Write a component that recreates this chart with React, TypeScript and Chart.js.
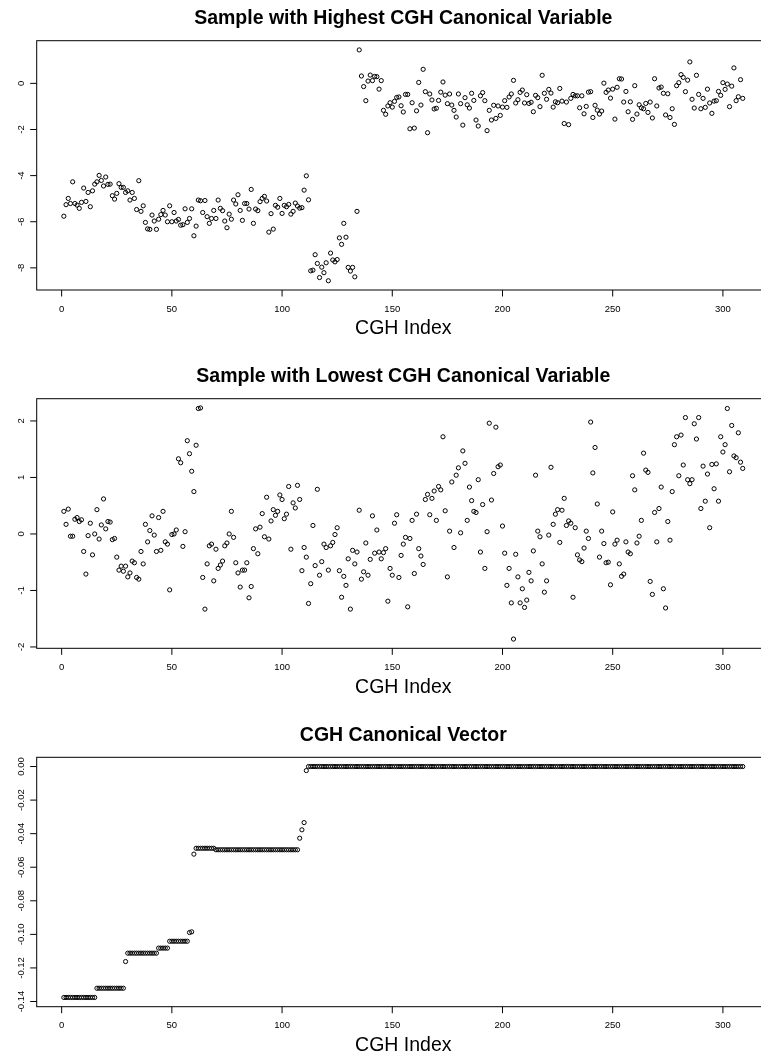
import React, { useEffect, useRef } from "react";
import { Chart, registerables } from "chart.js";

Chart.register(...registerables);

const FONT = '"Liberation Sans", Arial, Helvetica, sans-serif';
const CANVAS_W = 780;
const PAGE_W = 761;
const PAGE_H = 1057;

// Sample with the highest CGH canonical variable (one value per CGH index)
const highestSample: number[] = [
  -5.76, -5.26, -4.99, -5.21, -4.27, -5.21, -5.28, -5.42, -5.16, -4.54,
  -5.12, -4.73, -5.35, -4.66, -4.37, -4.27, -3.99, -4.21, -4.45, -4.06,
  -4.38, -4.37, -4.87, -5.02, -4.77, -4.35, -4.51, -4.51, -4.73, -4.66,
  -5.06, -4.73, -4.99, -5.47, -4.22, -5.55, -5.31, -6.03, -6.31, -6.33,
  -5.71, -5.97, -6.33, -5.89, -5.69, -5.51, -5.71, -6.0, -5.31, -6.0,
  -5.6, -5.97, -5.9, -6.15, -6.13, -5.44, -6.03, -5.86, -5.44, -6.61,
  -6.19, -5.06, -5.09, -5.6, -5.08, -5.78, -6.07, -5.86, -5.51, -5.86,
  -5.06, -5.42, -5.52, -5.97, -6.26, -5.67, -5.89, -5.06, -5.23, -4.83,
  -5.51, -5.94, -5.21, -5.21, -5.45, -4.6, -6.07, -5.45, -5.52, -5.13,
  -4.99, -4.9, -5.1, -6.45, -5.65, -6.32, -5.29, -5.37, -4.99, -5.64,
  -5.29, -5.35, -5.25, -5.67, -5.55, -5.19, -5.32, -5.41, -5.39, -4.63,
  -4.01, -5.05, -8.13, -8.1, -7.43, -7.81, -8.42, -7.97, -8.21, -7.78,
  -8.56, -7.36, -7.66, -7.74, -7.64, -6.7, -6.98, -6.07, -6.67, -7.98,
  -8.14, -7.98, -8.39, -5.55,
  1.45, 0.32, -0.14, -0.75, 0.1, 0.36, 0.12, 0.3, 0.29, -0.25,
  0.12, -1.17, -1.34, -0.98, -0.84, -1.03, -0.78, -0.61, -0.59, -0.97,
  -1.24, -0.48, -0.48, -1.97, -0.84, -1.94, -1.19, 0.04, -0.94, 0.61,
  -0.36, -2.14, -0.46, -0.72, -1.11, -1.08, -0.74, -0.38, 0.06, -0.51,
  -0.88, -0.46, -0.94, -1.17, -1.46, -0.46, -0.88, -1.81, -0.62, -0.93,
  -1.07, -0.43, -0.74, -1.59, -1.85, -0.54, -0.4, -0.75, -2.05, -1.17,
  -1.59, -0.95, -1.52, -0.98, -1.39, -1.03, -0.75, -1.04, -0.59,
  -0.46, 0.13, -0.85, -0.71, -0.39, -0.29, -0.85, -0.49, -0.87, -0.82,
  -1.23, -0.52, -0.62, -1.01, 0.35, -0.43, -0.69, -0.26, -0.42, -1.03,
  -0.8, -0.84, -0.22, -0.77, -1.74, -0.81, -1.79, -0.65, -0.48, -0.54,
  -0.54, -1.06, -0.54, -1.32, -1.0, -0.38, -0.36, -1.48, -0.95, -1.16,
  -1.33, -1.2, 0.01, -0.39, -0.29, -0.64, -0.25, -1.55, -0.17, 0.2,
  0.19, -0.81, -0.35, -1.23, -0.8, -1.56, -0.1, -1.33, -0.93, -1.06,
  -1.1, -0.87, -1.26, -0.81, -1.5, 0.2, -0.98, -0.2, -0.16, -0.43,
  -1.37, -0.45, -1.48, -1.1, -1.78, -0.1, 0.03, 0.38, 0.26, -0.36,
  0.14, 0.93, -0.69, -1.07, 0.35, -0.48, -1.1, -0.65, -1.04, -0.25,
  -0.85, -1.3, -0.77, -0.75, -0.35, -0.52, 0.03, -0.26, -0.03, -1.01,
  -0.12, 0.67, -0.75, -0.58, 0.16, -0.65,
];

// Sample with the lowest CGH canonical variable
const lowestSample: number[] = [
  0.4, 0.17, 0.44, -0.04, -0.04, 0.26, 0.29, 0.22, 0.25, -0.31,
  -0.71, -0.03, 0.19, -0.37, 0.0, 0.43, -0.09, 0.16, 0.62, 0.09,
  0.22, 0.21, -0.1, -0.08, -0.41, -0.64, -0.57, -0.66, -0.57, -0.76,
  -0.69, -0.48, -0.51, -0.77, -0.8, -0.31, -0.53, 0.17, -0.14, 0.06,
  0.32, -0.02, -0.31, 0.29, -0.29, 0.4, -0.14, -0.18, -0.99, -0.01,
  0.0, 0.07, 1.33, 1.26, -0.22, 0.04, 1.65, 1.42, 1.11, 0.75,
  1.57, 2.22, 2.23, -0.77, -1.33, -0.53, -0.21, -0.18, -0.83, -0.27,
  -0.61, -0.55, -0.48, -0.21, -0.16, 0.0, 0.4, -0.06, -0.51, -0.69,
  -0.94, -0.64, -0.64, -0.51, -1.13, -0.93, -0.26, 0.09, -0.35, 0.12,
  0.36, -0.05, 0.65, -0.09, 0.23, 0.43, 0.33, 0.4, 0.69, 0.61,
  0.27, 0.35, 0.84, -0.27, 0.55, 0.46, 0.86, 0.61, -0.65, -0.24,
  -0.41, -1.23, -0.88, 0.15, -0.56, 0.79, -0.73, -0.49, -0.18, -0.24,
  -0.64, -0.21, -0.15, -0.01, 0.11, -0.65, -1.12, -0.75, -0.91, -0.44,
  -1.33, -0.29, -0.53, -0.32, 0.42, -0.8, -0.67, -0.16, -0.73, -0.45,
  0.32, -0.34, 0.07, -0.32, -0.44, -0.33, -0.26, -1.19, -0.61, -0.73,
  0.19, 0.34, -0.77, -0.38, -0.18, -0.06, -1.29, -0.08, 0.24, -0.7,
  0.35, -0.26, -0.39, -0.54, 0.61, 0.7, 0.34, 0.63, 0.76, 0.24,
  0.84, 0.78, 1.72, 0.41, -0.76, 0.05, 0.92, -0.24, 1.04, 1.17,
  0.02, 1.47, 1.25, 0.24, 0.83, 0.59, 0.4, 0.38, 0.96, -0.32,
  0.52, -0.61, 0.04, 1.96, 0.6, 1.07, 1.89, 1.19,
  1.22, 0.14, -0.34, -0.91, -0.61, -1.22, -1.86, -0.36, -0.76, -1.22,
  -0.97, -1.3, -1.17, -0.68, -0.83, -0.3, 1.04, 0.05, -0.05, -0.53,
  -1.03, -0.83, -0.02, 1.18, 0.17, 0.35, 0.43, -0.15, 0.42, 0.63,
  0.15, 0.23, 0.19, -1.12, 0.11, -0.37, -0.46, -0.49, -0.25, 0.05,
  -0.08, 1.98, 1.08, 1.53, 0.53, -0.41, 0.05, -0.17, -0.51, -0.5,
  -0.9, 0.39, -0.18, -0.11, -0.53, -0.75, -0.71, -0.14, -0.32, -0.35,
  1.03, 0.78, -0.16, -0.04, 0.24, 1.43, 1.13, 1.09, -0.84, -1.07,
  0.38, -0.14, 0.45, 0.83, -0.97, -1.31, 0.22, -0.11, 0.75, 1.58,
  1.72, 1.03, 1.75, 1.22, 2.06, 0.96, 0.89, 0.96, 1.95, 1.68,
  2.06, 0.45, 1.2, 0.58, 1.06, 0.11, 1.23, 0.8, 1.24, 0.58,
  1.72, 1.45, 1.58, 2.22, 1.1, 1.92, 1.38, 1.35, 1.79, 1.27,
  1.16,
];

// CGH canonical vector (loadings per CGH index)
const canonicalVector: number[] = [
  -0.1376, -0.1376, -0.1376, -0.1376, -0.1376, -0.1376, -0.1376, -0.1376, -0.1376, -0.1376,
  -0.1376, -0.1376, -0.1376, -0.1376, -0.1376,
  -0.1321, -0.1321, -0.1321, -0.1321, -0.1321, -0.1321, -0.1321, -0.1321, -0.1321, -0.1321,
  -0.1321, -0.1321, -0.1321,
  -0.1162,
  -0.1112, -0.1112, -0.1112, -0.1112, -0.1112, -0.1112, -0.1112, -0.1112, -0.1112, -0.1112,
  -0.1112, -0.1112, -0.1112, -0.1112,
  -0.1082, -0.1082, -0.1082, -0.1082, -0.1082,
  -0.1041, -0.1041, -0.1041, -0.1041, -0.1041, -0.1041, -0.1041, -0.1041, -0.1041,
  -0.0989, -0.0985,
  -0.0522,
  -0.0487, -0.0487, -0.0487, -0.0487, -0.0487, -0.0487, -0.0487, -0.0487, -0.0487,
  -0.0496, -0.0496, -0.0496, -0.0496, -0.0496, -0.0496, -0.0496, -0.0496, -0.0496, -0.0496,
  -0.0496, -0.0496, -0.0496, -0.0496, -0.0496, -0.0496, -0.0496, -0.0496, -0.0496, -0.0496,
  -0.0496, -0.0496, -0.0496, -0.0496, -0.0496, -0.0496, -0.0496, -0.0496, -0.0496, -0.0496,
  -0.0496, -0.0496, -0.0496, -0.0496, -0.0496, -0.0496, -0.0496, -0.0496,
  -0.0427, -0.0377, -0.0334, -0.0024,
  0, 0, 0, 0, 0, 0, 0, 0, 0, 0, 0, 0, 0, 0, 0, 0, 0, 0, 0, 0,
  0, 0, 0, 0, 0, 0, 0, 0, 0, 0, 0, 0, 0, 0, 0, 0, 0, 0, 0, 0,
  0, 0, 0, 0, 0, 0, 0, 0, 0, 0, 0, 0, 0, 0, 0, 0, 0, 0, 0, 0,
  0, 0, 0, 0, 0, 0, 0, 0, 0, 0, 0, 0, 0, 0, 0, 0, 0, 0, 0, 0,
  0, 0, 0, 0, 0, 0, 0, 0, 0, 0, 0, 0, 0, 0, 0, 0, 0, 0, 0, 0,
  0, 0, 0, 0, 0, 0, 0, 0, 0, 0, 0, 0, 0, 0, 0, 0, 0, 0, 0, 0,
  0, 0, 0, 0, 0, 0, 0, 0, 0, 0, 0, 0, 0, 0, 0, 0, 0, 0, 0, 0,
  0, 0, 0, 0, 0, 0, 0, 0, 0, 0, 0, 0, 0, 0, 0, 0, 0, 0, 0, 0,
  0, 0, 0, 0, 0, 0, 0, 0, 0, 0, 0, 0, 0, 0, 0, 0, 0, 0, 0, 0,
  0, 0, 0, 0, 0, 0, 0, 0, 0, 0, 0, 0, 0, 0, 0, 0, 0, 0,
];

const titles = [
  "Sample with Highest CGH Canonical Variable",
  "Sample with Lowest CGH Canonical Variable",
  "CGH Canonical Vector",
];
const xAxisTitle = "CGH Index";
const xTicks = [0, 50, 100, 150, 200, 250, 300];
const yTicksHighest = [0, -2, -4, -6, -8];
const yTicksLowest = [2, 1, 0, -1, -2];
const yTicksVector = [0, -0.02, -0.04, -0.06, -0.08, -0.1, -0.12, -0.14];
const yTickLabelsVector = ["0.00", "-0.02", "-0.04", "-0.06", "-0.08", "-0.10", "-0.12", "-0.14"];

type PanelSpec = {
  title: string;
  values: number[];
  yTicks: number[];
  yLabels: string[];
  canvasTop: number;
  canvasHeight: number;
  boxTop: number;
  boxBottom: number;
};

const BOX_LEFT = 36.7;
const BOX_RIGHT = 769.9;
const TICK_LEN = 6.5;

const panels: PanelSpec[] = [
  {
    title: titles[0],
    values: highestSample,
    yTicks: yTicksHighest,
    yLabels: yTicksHighest.map(String),
    canvasTop: 0,
    canvasHeight: 352,
    boxTop: 40.7,
    boxBottom: 290,
  },
  {
    title: titles[1],
    values: lowestSample,
    yTicks: yTicksLowest,
    yLabels: yTicksLowest.map(String),
    canvasTop: 352,
    canvasHeight: 358,
    boxTop: 46.7,
    boxBottom: 296.3,
  },
  {
    title: titles[2],
    values: canonicalVector,
    yTicks: yTicksVector,
    yLabels: yTickLabelsVector,
    canvasTop: 710,
    canvasHeight: 347,
    boxTop: 47.3,
    boxBottom: 296.7,
  },
];

// R-style axis extension: 4% of the data range on each side
function paddedRange(lo: number, hi: number): [number, number] {
  const pad = (hi - lo) * 0.04;
  return [lo - pad, hi + pad];
}

function PanelChart({ spec }: { spec: PanelSpec }) {
  const ref = useRef<HTMLCanvasElement | null>(null);

  useEffect(() => {
    const canvas = ref.current;
    if (!canvas) return;
    const n = spec.values.length;
    const points = spec.values.map((v, i) => ({ x: i + 1, y: v }));
    const [xMin, xMax] = paddedRange(1, n);
    const [yMin, yMax] = paddedRange(Math.min(...spec.values), Math.max(...spec.values));

    const baseAxes = {
      id: "baseAxes",
      afterDraw(chart: any) {
        const { ctx, chartArea: a } = chart;
        const xs = chart.scales.x;
        const ys = chart.scales.y;
        ctx.save();
        ctx.strokeStyle = "#000";
        ctx.lineWidth = 1;
        ctx.strokeRect(a.left, a.top, a.right - a.left, a.bottom - a.top);

        ctx.beginPath();
        for (const t of xTicks) {
          const px = xs.getPixelForValue(t);
          ctx.moveTo(px, a.bottom);
          ctx.lineTo(px, a.bottom + TICK_LEN);
        }
        for (const t of spec.yTicks) {
          const py = ys.getPixelForValue(t);
          ctx.moveTo(a.left, py);
          ctx.lineTo(a.left - TICK_LEN, py);
        }
        ctx.stroke();

        ctx.fillStyle = "#000";
        ctx.font = `9.5px ${FONT}`;
        ctx.textAlign = "center";
        ctx.textBaseline = "alphabetic";
        for (const t of xTicks) {
          ctx.fillText(String(t), xs.getPixelForValue(t), a.bottom + 21.7);
        }
        spec.yTicks.forEach((t, k) => {
          const py = ys.getPixelForValue(t);
          ctx.save();
          ctx.translate(24.4, py);
          ctx.rotate(-Math.PI / 2);
          ctx.fillText(spec.yLabels[k], 0, 0);
          ctx.restore();
        });

        const cx = (a.left + a.right) / 2;
        ctx.font = `bold 19.5px ${FONT}`;
        ctx.fillText(spec.title, cx, a.top - 16.7);
        ctx.font = `19.5px ${FONT}`;
        ctx.fillText(xAxisTitle, cx, a.bottom + 44.2);
        ctx.restore();
      },
    };

    const chart = new Chart(canvas, {
      type: "scatter",
      data: {
        datasets: [
          {
            data: points,
            pointStyle: "circle",
            pointRadius: 2.1,
            pointBorderWidth: 1,
            pointBorderColor: "#000",
            pointBackgroundColor: "rgba(0,0,0,0)",
            showLine: false,
          },
        ],
      },
      options: {
        animation: false,
        responsive: false,
        events: [],
        layout: {
          padding: {
            left: BOX_LEFT,
            right: CANVAS_W - BOX_RIGHT,
            top: spec.boxTop,
            bottom: spec.canvasHeight - spec.boxBottom,
          },
        },
        plugins: { legend: { display: false }, tooltip: { enabled: false } },
        scales: {
          x: { type: "linear", min: xMin, max: xMax, display: false },
          y: { type: "linear", min: yMin, max: yMax, display: false },
        },
      },
      plugins: [baseAxes],
    });
    return () => chart.destroy();
  }, [spec]);

  return (
    <canvas
      ref={ref}
      width={CANVAS_W}
      height={spec.canvasHeight}
      style={{
        position: "absolute",
        left: 0,
        top: spec.canvasTop,
        width: CANVAS_W,
        height: spec.canvasHeight,
      }}
    />
  );
}

export default function App() {
  return (
    <div
      style={{
        position: "fixed",
        left: 0,
        top: 0,
        width: PAGE_W,
        height: PAGE_H,
        overflow: "hidden",
        background: "#fff",
      }}
    >
      {panels.map((p) => (
        <PanelChart key={p.title} spec={p} />
      ))}
    </div>
  );
}
